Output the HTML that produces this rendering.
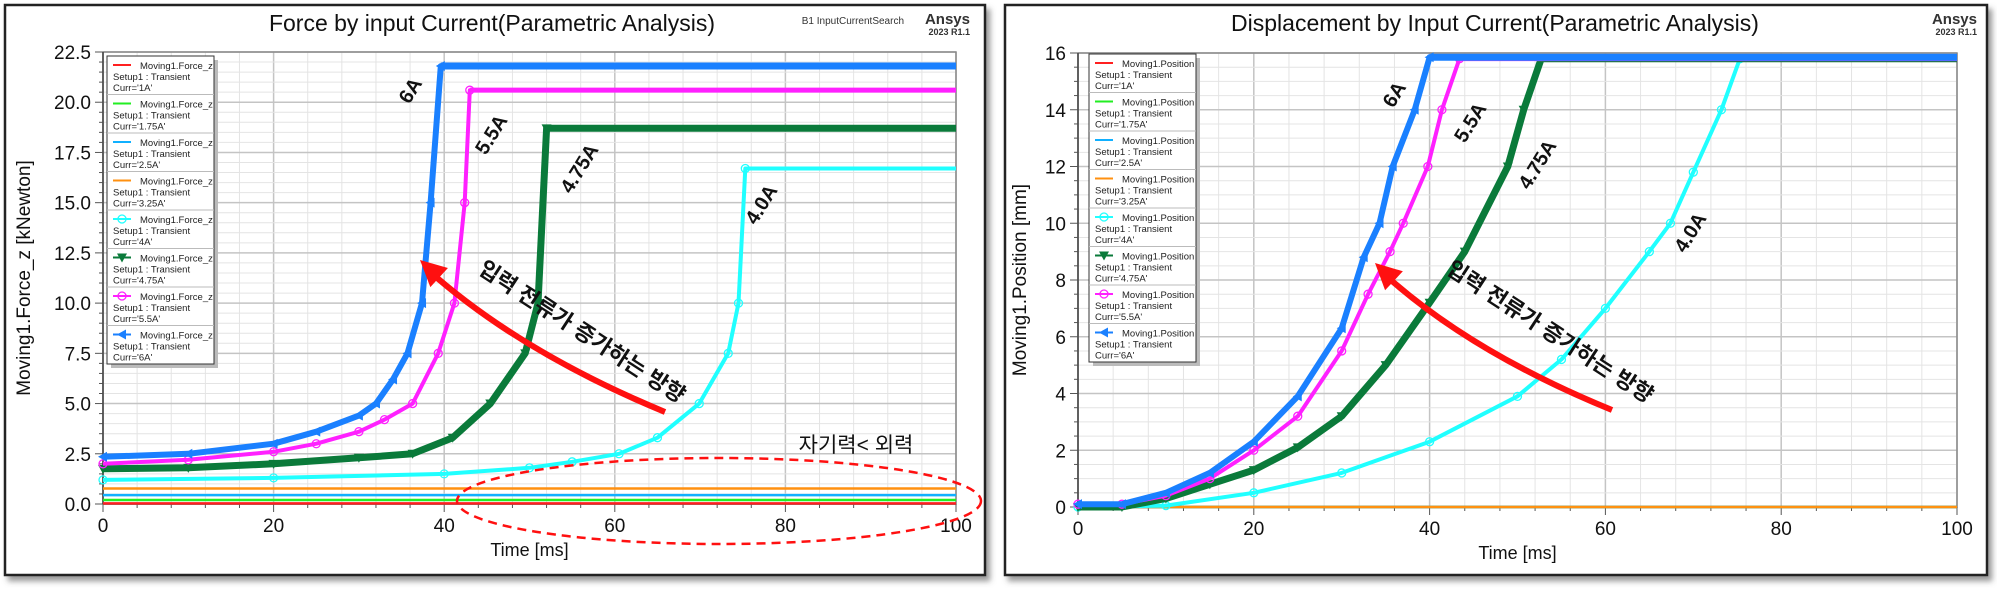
<!DOCTYPE html>
<html><head><meta charset="utf-8"><style>
body{margin:0;background:#fff;}
svg text{font-family:"Liberation Sans","Noto Sans CJK KR",sans-serif;}
</style></head><body>
<svg id="s" width="1997" height="589" viewBox="0 0 1997 589" xmlns="http://www.w3.org/2000/svg">
<defs>
<filter id="sh" x="-5%" y="-5%" width="110%" height="115%"><feDropShadow dx="4" dy="5" stdDeviation="3" flood-color="#555" flood-opacity="0.6"/></filter>
</defs>
<rect x="5" y="5" width="980" height="570" fill="#fff" stroke="#222" stroke-width="2.5" filter="url(#sh)"/>
<rect x="1005" y="5" width="982" height="570" fill="#fff" stroke="#222" stroke-width="2.5" filter="url(#sh)"/>
<g id="L"></g>
<g id="R"></g>
<g id="ann"></g>
</svg>
<script>
// ---- Force chart data ----
const forceTicksY = ["0.0","2.5","5.0","7.5","10.0","12.5","15.0","17.5","20.0","22.5"];
const timeTicks = [0,20,40,60,80,100];
const forceLevels = [0.03, 0.2, 0.44, 0.77]; // 1A,1.75A,2.5A,3.25A
const f4T = [0,20,40,50,55,60.5,65,69.9,73.3,74.5,75.3,100];
const f4V = [1.2,1.3,1.5,1.8,2.1,2.5,3.3,5.0,7.5,10,16.7,16.7];
const f475T = [0,10,20,30,36.3,41,45.4,49.5,51,52,100];
const f475V = [1.75,1.8,2.0,2.3,2.5,3.3,5.0,7.5,10,18.7,18.7];
const f55T = [0,10,20,25,30,33,36.3,39.3,41.2,42.4,43,100];
const f55V = [2.0,2.2,2.6,3.0,3.6,4.2,5.0,7.5,10,15,20.6,20.6];
const f6T = [0,10,20,25,30,32,34,35.7,37.4,38.4,39.6,100];
const f6V = [2.35,2.5,3.0,3.6,4.4,5.0,6.2,7.5,10,15,21.8,21.8];
// ---- Position chart data ----
const posTicksY = ["0","2","4","6","8","10","12","14","16"];
const posLevels = [0,0,0,0];
const p4T = [0,10,20,30,40,50,55,60,65,67.4,70,73.2,75.3,100];
const p4V = [0,0.05,0.5,1.2,2.3,3.9,5.2,7,9,10,11.8,14,15.8,15.8];
const p475T = [0,5,10,15,20,25,30,35,40,44,48.9,50.7,52.7,100];
const p475V = [0,0,0.3,0.8,1.3,2.1,3.2,5,7.2,9,12,14,15.8,15.8];
const p55T = [0,5,10,15,20,25,30,33,35.5,37,39.8,41.4,43.4,100];
const p55V = [0.1,0.1,0.4,1.0,2.0,3.2,5.5,7.5,9,10,12,14,15.8,15.8];
const p6T = [0,5,10,15,20,25,30,32.5,34.3,35.8,38.3,40,100];
const p6V = [0.1,0.1,0.5,1.2,2.3,3.9,6.3,8.8,10,12,14,15.85,15.85];
const currents = ["1A","1.75A","2.5A","3.25A","4A","4.75A","5.5A","6A"];
const colors = ["#ff2020","#22ee22","#10b0ff","#ff9010","#20ffff","#0a7a3a","#ff20ff","#1a80ff"];

const NS="http://www.w3.org/2000/svg";
function mk(tag,attrs,parent,txt){const e=document.createElementNS(NS,tag);for(const k in attrs)e.setAttribute(k,attrs[k]);if(txt!==undefined)e.textContent=txt;parent.appendChild(e);return e;}

function chart(g,cfg){
  const X=t=>cfg.x0+(t/100)*(cfg.x1-cfg.x0);
  const Y=v=>cfg.y0-(v/cfg.ymax)*(cfg.y0-cfg.y1);
  for(let t=0;t<=100;t+=4){const l=mk('line',{x1:X(t),x2:X(t),y1:cfg.y1,y2:cfg.y0,stroke:t%20==0?'#c4c4c4':'#e4e4e4','stroke-width':t%20==0?1.5:1},g);
    }
  for(let v=0;v<=cfg.ymax+1e-6;v+=cfg.minor){const maj=Math.abs(v/cfg.major-Math.round(v/cfg.major))<1e-6;
    const l=mk('line',{x1:cfg.x0,x2:cfg.x1,y1:Y(v),y2:Y(v),stroke:maj?'#c4c4c4':'#e4e4e4','stroke-width':maj?1.5:1},g);
    
    mk('line',{x1:cfg.x0-(maj?8:4),x2:cfg.x0,y1:Y(v),y2:Y(v),stroke:'#555','stroke-width':1},g);}
  const fr=mk('rect',{x:cfg.x0,y:cfg.y1,width:cfg.x1-cfg.x0,height:cfg.y0-cfg.y1,fill:'none',stroke:'#888','stroke-width':1.5},g);
  
  mk('line',{x1:cfg.x0,x2:cfg.x0,y1:cfg.y1,y2:cfg.y0,stroke:'#444','stroke-width':1.5},g);
  mk('line',{x1:cfg.x0,x2:cfg.x1,y1:cfg.y0,y2:cfg.y0,stroke:'#444','stroke-width':1.5},g);
  for(let t=0;t<=100;t+=4){mk('line',{x1:X(t),x2:X(t),y1:cfg.y0,y2:cfg.y0+(t%20==0?8:4),stroke:'#555'},g);}
  timeTicks.forEach(t=>{const e=mk('text',{x:X(t),y:cfg.y0+28,'font-size':19,'text-anchor':'middle',fill:'#111'},g,String(t));
    });
  cfg.yticks.forEach((s,i)=>{const e=mk('text',{x:cfg.x0-12,y:Y(i*cfg.major)+7,'font-size':19,'text-anchor':'end',fill:'#111'},g,s);
    });
  let e=mk('text',{x:(cfg.x0+cfg.x1)/2,y:cfg.y0+52,'font-size':18,'text-anchor':'middle',fill:'#111'},g,'Time [ms]');
  
  e=mk('text',{x:0,y:0,'font-size':19,'text-anchor':'middle',fill:'#111',transform:`translate(${cfg.ylx},${(cfg.y0+cfg.y1)/2}) rotate(-90)`},g,cfg.ylabel);
  
  e=mk('text',{x:cfg.tx,y:31,'font-size':23,'text-anchor':'middle',fill:'#111'},g,cfg.title);
  
  e=mk('text',{x:cfg.ax,y:24,'font-size':15,'font-weight':'bold','text-anchor':'end',fill:'#333'},g,'Ansys');
  
  e=mk('text',{x:cfg.ax,y:35,'font-size':9,'font-weight':'bold','text-anchor':'end',fill:'#333'},g,'2023 R1.1');
  
  cfg.levels.forEach((v,i)=>{const l=mk('line',{x1:X(0),x2:X(100),y1:Y(v),y2:Y(v),stroke:colors[i],'stroke-width':2.5},g);
    });
  const widths=[4,7,4,6];
  cfg.series.forEach((s,k)=>{const i=k+4;
    const pts=s[0].map((t,j)=>X(t).toFixed(1)+','+Y(s[1][j]).toFixed(1)).join(' ');
    const pl=mk('polyline',{points:pts,fill:'none',stroke:colors[i],'stroke-width':widths[k],'stroke-linejoin':'round'},g);
    
    const fl=s[0].length-2;const tEnd=s[0][fl];const vEnd=s[1][fl];
    const band=mk('line',{x1:X(tEnd),x2:X(100),y1:Y(vEnd),y2:Y(vEnd),stroke:colors[i],'stroke-width':[4,6,5,7][k]},g);
    
    s[0].forEach((t,j)=>{if(j==s[0].length-1)return;const m=marker(g,X(t),Y(s[1][j]),k,colors[i]);
      });
  });
  const lg=mk('g',{},g);
  mk('rect',{x:cfg.lx+4,y:cfg.ly+4,width:cfg.lw,height:8*38.5,fill:'#bbb'},lg);
  mk('rect',{x:cfg.lx,y:cfg.ly,width:cfg.lw,height:8*38.5,fill:'#fff',stroke:'#333','stroke-width':1},lg);
  currents.forEach((c,i)=>{const y=cfg.ly+i*38.5;const eg=mk('g',{},lg);
    
    if(i>0)mk('line',{x1:cfg.lx,x2:cfg.lx+cfg.lw,y1:y,y2:y,stroke:'#bbb'},eg);
    mk('line',{x1:cfg.lx+6,x2:cfg.lx+24,y1:y+9,y2:y+9,stroke:colors[i],'stroke-width':2},eg);
    if(i>=4)marker(eg,cfg.lx+15,y+9,i-4,colors[i]);
    mk('text',{x:cfg.lx+33,y:y+13,'font-size':9.5,fill:'#222'},eg,cfg.lname);
    mk('text',{x:cfg.lx+6,y:y+24,'font-size':9.5,fill:'#222'},eg,'Setup1 : Transient');
    mk('text',{x:cfg.lx+6,y:y+35,'font-size':9.5,fill:'#222'},eg,"Curr='"+c+"'");
  });
}
function marker(g,x,y,k,c){
  if(k==0||k==2) return mk('circle',{cx:x,cy:y,r:4,fill:'none',stroke:c,'stroke-width':1.3},g);
  if(k==1) return mk('polygon',{points:`${x-5},${y-4} ${x+5},${y-4} ${x},${y+5}`,fill:c},g);
  return mk('polygon',{points:`${x-5},${y} ${x+4},${y-5} ${x+4},${y+5}`,fill:c},g);
}
chart(document.getElementById('L'),{x0:103,x1:956,y0:504,y1:52,ymax:22.5,major:2.5,minor:0.5,yticks:forceTicksY,
  ylabel:'Moving1.Force_z [kNewton]',ylx:30,title:'Force by input Current(Parametric Analysis)',tx:492,ax:970,
  levels:forceLevels,series:[[f4T,f4V],[f475T,f475V],[f55T,f55V],[f6T,f6V]],lx:107,ly:56,lw:107,lname:'Moving1.Force_z'});
chart(document.getElementById('R'),{x0:1078,x1:1957,y0:507,y1:53,ymax:16,major:2,minor:0.5,yticks:posTicksY,
  ylabel:'Moving1.Position [mm]',ylx:1026,title:'Displacement by Input Current(Parametric Analysis)',tx:1495,ax:1977,
  levels:posLevels,series:[[p4T,p4V],[p475T,p475V],[p55T,p55V],[p6T,p6V]],lx:1089,ly:54,lw:107,lname:'Moving1.Position'});
let t=mk('text',{x:904,y:24,'font-size':10,'text-anchor':'end',fill:'#333'},document.getElementById('L'),'B1  InputCurrentSearch');

const A=document.getElementById('ann');
function lab(x,y,s,rot,size,nm){const e=mk('text',{x:0,y:0,'font-size':size,'font-weight':'bold','text-anchor':'middle',fill:'#111',transform:`translate(${x},${y}) rotate(${rot})`},A,s);
  }
lab(416,94,'6A',-58,20,'label-6a');lab(497,138,'5.5A',-58,20,'label-5-5a');lab(585,172,'4.75A',-58,20,'label-4-75a');lab(767,208,'4.0A',-58,20,'label-4a');
lab(1400,98,'6A',-58,20,'label-6a');lab(1476,126,'5.5A',-58,20,'label-5-5a');lab(1543,168,'4.75A',-58,20,'label-4-75a');lab(1696,236,'4.0A',-58,20,'label-4a');
lab(578,338,'입력 전류가 증가하는 방향',33,22,'direction-note');
lab(1546,338,'입력 전류가 증가하는 방향',33,22,'direction-note');
function arrow(x0,y0,cx,cy,x1,y1,nm){const g=mk('g',{},A);
  mk('path',{d:`M${x0},${y0} Q${cx},${cy} ${x1+8},${y1+10}`,fill:'none',stroke:'#ff1010','stroke-width':6},g);
  const ang=Math.atan2(y1-cy,x1-cx);const L=26,W=13;
  const bx=x1-L*Math.cos(ang),by=y1-L*Math.sin(ang);
  mk('polygon',{points:`${x1},${y1} ${bx+W*Math.sin(ang)},${by-W*Math.cos(ang)} ${bx-W*Math.sin(ang)},${by+W*Math.cos(ang)}`,fill:'#ff1010'},g);}
arrow(665,412,520,352,420,260,'red-arrow');
arrow(1612,410,1470,352,1375,263,'red-arrow');
let el=mk('ellipse',{cx:719,cy:501,rx:262,ry:43,fill:'none',stroke:'#ff1010','stroke-width':2.5,'stroke-dasharray':'9 6'},A);

el=mk('text',{x:856,y:452,'font-size':21,'text-anchor':'middle',fill:'#111'},A,'자기력< 외력');

</script>
</body></html>
